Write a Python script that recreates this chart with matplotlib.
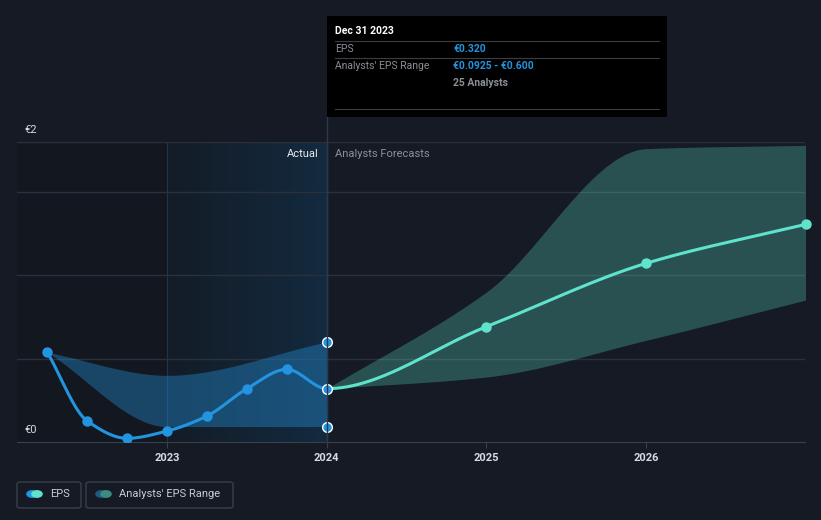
import numpy as np
import matplotlib
matplotlib.use("Agg")
import matplotlib.pyplot as plt
from matplotlib.colors import LinearSegmentedColormap
from matplotlib.patches import Rectangle, FancyBboxPatch, Circle

plt.rcParams['font.family'] = ['Roboto', 'DejaVu Sans']

# past EPS (quarterly, trailing)
past_x = [2022.25, 2022.5, 2022.75, 2023.0, 2023.25, 2023.5, 2023.75, 2024.0]
past_eps = [0.538, 0.126, 0.022, 0.066, 0.156, 0.320, 0.436, 0.320]

# past analysts' range
past_rng_x = [2022.25, 2023.0, 2024.0]
past_low = [0.538, 0.0925, 0.0925]
past_high = [0.538, 0.40, 0.600]

# forecasts
fc_x = [2024.0, 2025.0, 2026.0, 2027.0]
fc_eps = [0.320, 0.692, 1.072, 1.306]
fc_low = [0.320, 0.39, 0.61, 0.852]
fc_high = [0.320, 0.90, 1.76, 1.78]

year_ticks = [2023, 2024, 2025, 2026]

BG = "#151a24"
BLUE = "#2394df"
MINT = "#5fe3cc"
GRID = "#2b313b"


def monotone(x, y, n=400):
    # monotone cubic (Fritsch-Carlson) just for drawing smooth curves
    x = np.asarray(x, float)
    y = np.asarray(y, float)
    h = np.diff(x)
    d = np.diff(y) / h
    m = np.zeros_like(y)
    m[0], m[-1] = d[0], d[-1]
    for i in range(1, len(y) - 1):
        if d[i - 1] * d[i] <= 0:
            m[i] = 0
        else:
            m[i] = 3 * (h[i - 1] + h[i]) / ((2 * h[i] + h[i - 1]) / d[i - 1] + (h[i] + 2 * h[i - 1]) / d[i])
    xs = np.linspace(x[0], x[-1], n)
    idx = np.clip(np.searchsorted(x, xs) - 1, 0, len(x) - 2)
    t = (xs - x[idx]) / h[idx]
    h00 = 2 * t**3 - 3 * t**2 + 1
    h10 = t**3 - 2 * t**2 + t
    h01 = -2 * t**3 + 3 * t**2
    h11 = t**3 - t**2
    ys = h00 * y[idx] + h10 * h[idx] * m[idx] + h01 * y[idx + 1] + h11 * h[idx] * m[idx + 1]
    return xs, ys


fig = plt.figure(figsize=(8.21, 5.2), dpi=100, facecolor=BG)
ax = fig.add_axes([17 / 821, 1 - 442 / 520, 788 / 821, 300 / 520])
ax.set_facecolor(BG)

x0, x1 = 2022.06, 2026.995
ax.set_xlim(x0, x1)
ax.set_ylim(0, 1.8)

# past background
ax.axvspan(x0, 2023.0, color="#13171f", zorder=0, lw=0)
grad = LinearSegmentedColormap.from_list("g", ["#141c27", "#132a3f"])
ax.imshow(np.linspace(0, 1, 100).reshape(1, -1), cmap=grad, aspect="auto",
          extent=[2023.0, 2024.0, 0, 1.8], zorder=0.5)
ax.axvline(2023.0, color="#1c3550", lw=0.8, zorder=1)

for g in [0.5, 1.0, 1.5, 1.8]:
    ax.axhline(g, color=GRID, lw=1, zorder=1)

# ranges
xs, lo = monotone(past_rng_x, past_low)
_, hi = monotone(past_rng_x, past_high)
ax.fill_between(xs, lo, hi, color=BLUE, alpha=0.38, lw=0, zorder=2)
xs, lo = monotone(fc_x, fc_low)
_, hi = monotone(fc_x, fc_high)
ax.fill_between(xs, lo, hi, color=MINT, alpha=0.28, lw=0, zorder=2)

# EPS line: one smooth curve through past and forecast, coloured by side of today
all_x = past_x + fc_x[1:]
all_eps = past_eps + fc_eps[1:]
xs, ys = monotone(all_x, all_eps, n=1200)
past = xs <= 2024.0
ax.plot(xs[past], ys[past], color=BLUE, lw=2.2, zorder=3, solid_capstyle="round")
ax.plot(xs[xs >= 2024.0], ys[xs >= 2024.0], color=MINT, lw=2.2, zorder=3)
ax.plot(past_x[:-1], past_eps[:-1], "o", color=BLUE, ms=6.5, zorder=4)
ax.plot(fc_x[1:], fc_eps[1:], "o", color=MINT, ms=6.5, zorder=4, clip_on=False)

# today markers
ax.plot([2024.0] * 3, [past_high[-1], past_eps[-1], past_low[-1]], "o", color=BLUE,
        mec="white", mew=1.0, ms=7, zorder=5)

ax.axvline(2024.0, color="#2a3a4c", lw=1, zorder=1.5)

for s in ["top", "right", "left"]:
    ax.spines[s].set_visible(False)
ax.spines["bottom"].set_color("#3a404a")
ax.set_yticks([])
ax.set_xticks(year_ticks)
ax.set_xticklabels([str(y) for y in year_ticks], color="#d8dbe0", fontsize=8, fontweight="bold")
ax.tick_params(axis="x", length=4, color="#3a404a", pad=4)

fig.text(24 / 821, 1 - 130 / 520, "€2", color="#d8dbe0", fontsize=8, va="center")
fig.text(24 / 821, 1 - 430 / 520, "€0", color="#d8dbe0", fontsize=8, va="center")

fig.text(319 / 821, 1 - 154 / 520, "Actual", color="#e8eaee", fontsize=8, ha="right", va="center")
fig.text(335 / 821, 1 - 154 / 520, "Analysts Forecasts", color="#8a9099", fontsize=8, va="center")

# today line up to tooltip
fig.add_artist(plt.Line2D([327 / 821, 327 / 821], [1 - 442 / 520, 1 - 117 / 520],
                          color="#2a3a4c", lw=1))

# tooltip
fig.add_artist(Rectangle((327 / 821, 1 - 117 / 520), 340 / 821, 101 / 520,
                         facecolor="black", edgecolor="none"))
for yy in [41, 58, 109]:
    fig.add_artist(plt.Line2D([335 / 821, 659 / 821], [1 - yy / 520] * 2, color="#3a3d42", lw=0.8))
fig.text(335 / 821, 1 - 31 / 520, "Dec 31 2023", color="white", fontsize=7.5, fontweight="bold", va="center")
fig.text(335 / 821, 1 - 49 / 520, "EPS", color="#8a8f96", fontsize=7.5, va="center")
fig.text(453 / 821, 1 - 49 / 520, "€0.320", color=BLUE, fontsize=7.5, fontweight="bold", va="center")
fig.text(335 / 821, 1 - 66 / 520, "Analysts' EPS Range", color="#8a8f96", fontsize=7.5, va="center")
fig.text(453 / 821, 1 - 66 / 520, "€0.0925 - €0.600", color=BLUE, fontsize=7.5, fontweight="bold", va="center")
fig.text(453 / 821, 1 - 83 / 520, "25 Analysts", color="#8a8f96", fontsize=7.5, fontweight="bold", va="center")

# legend
for (lx, lw_, label, c1, c2) in [(17, 64, "EPS", BLUE, MINT),
                                 (86, 147, "Analysts' EPS Range", "#1f5a83", "#3d8a84")]:
    fig.add_artist(FancyBboxPatch((lx / 821, 1 - 508 / 520), lw_ / 821, 26 / 520,
                                  boxstyle="round,pad=0,rounding_size=0.004",
                                  facecolor="none", edgecolor="#3a404a", lw=1))
    fig.add_artist(Circle(((lx + 15) / 821, 1 - 494 / 520), 0.0062, color=c1,
                          transform=fig.transFigure))
    fig.add_artist(Circle(((lx + 20) / 821, 1 - 494 / 520), 0.0062, color=c2,
                          transform=fig.transFigure))
    fig.text((lx + 33) / 821, 1 - 494 / 520, label, color="#c8ccd2", fontsize=8, va="center")

fig.savefig("out.png", dpi=100, facecolor=BG)
